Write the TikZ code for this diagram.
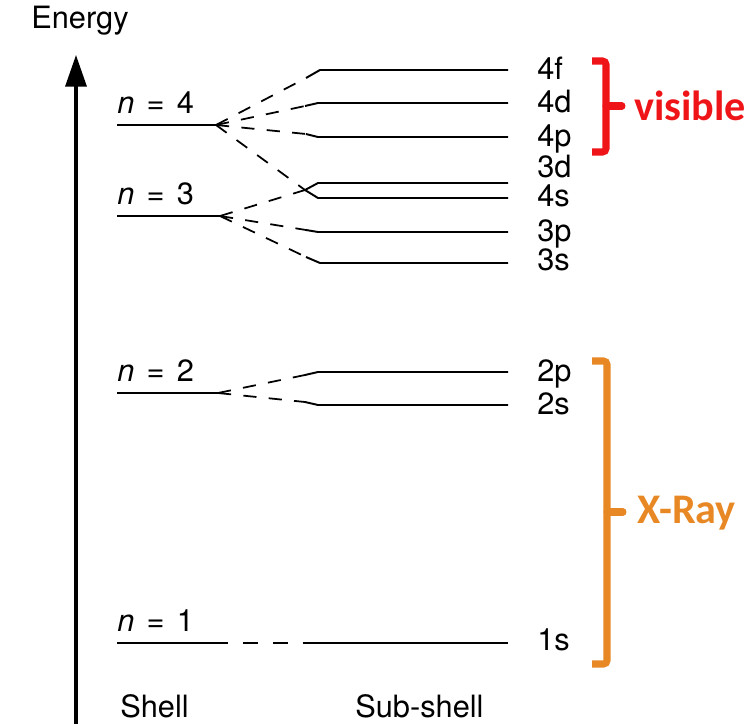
\documentclass[tikz,border=0pt]{standalone}
\usepackage{fontspec}
\setmainfont{TeX Gyre Heros}
\newfontfamily\bandfont{Carlito}
\usetikzlibrary{arrows.meta}
\definecolor{visred}{RGB}{238,20,24}
\definecolor{xorange}{RGB}{232,136,36}

\begin{document}
\begin{tikzpicture}[
    x=0.02cm, y=-0.02cm,
    level/.style={line width=1.1pt},
    split/.style={line width=1pt, dash pattern=on 7.5pt off 7pt},
    txt/.style={inner sep=0pt, anchor=base west, font=\fontsize{17.5}{20}\selectfont},
    brak/.style={line width=4pt, rounded corners=2pt},
    band/.style={anchor=west, inner sep=0pt,
        font=\bandfont\bfseries\fontsize{24}{28}\selectfont}
]
    \useasboundingbox (0,0) rectangle (751,724);

    % energy axis
    \node[txt] (energy) at (31,28) {Energy};
    \coordinate (axbot) at (76,724);
    \coordinate (axtop) at (76,55);
    \draw[line width=1.8pt, -{Triangle[length=18pt,width=12pt]}] (axbot) -- (axtop);

    % shells
    \foreach \n/\y/\xe in {4/125/216, 3/216/220, 2/393/218, 1/643/228} {
        \coordinate (s\n l) at (117,\y);
        \coordinate (s\n) at (\xe,\y);
        \draw[level] (s\n l) -- (s\n);
        \node[txt] (n\n) at (117,\y-12) {\textit{n}\hspace{0.4em}=\hspace{0.4em}\n};
    }

    % sub-shells
    \coordinate (j34) at (305,190);
    \foreach \o/\xs/\ys/\xb/\yb in {4f/306/78/320/70, 4d/305/106/318/103,
            4p/306/134/318/137, 3p/306/230/318/232, 3s/306/257/320/263,
            2p/305/375/318/372, 2s/305/402/318/405} {
        \coordinate (o\o) at (\xs,\ys);
        \draw[level] (o\o) -- (\xb,\yb) -- (508,\yb);
    }
    \draw[level] (j34) -- (318,183) -- (508,183);
    \draw[level] (j34) -- (318,198) -- (508,198);
    \coordinate (o1s) at (305,643);
    \draw[level] (o1s) -- (508,643);

    \foreach \o/\y in {4f/70, 4d/103, 4p/137, 3d/168, 4s/197, 3p/232, 3s/261,
            2p/372, 2s/405, 1s/641}
        \node[txt] (l\o) at (537,\y+9) {\o};

    % splitting
    \foreach \t in {o4f, o4d, o4p, j34} \draw[split] (s4) -- (\t);
    \foreach \t in {j34, o3p, o3s} \draw[split] (s3) -- (\t);
    \foreach \t in {o2p, o2s} \draw[split] (s2) -- (\t);
    \draw[level, dash pattern=on 8.5pt off 8.5pt, dash phase=8.5pt] (s1) -- (o1s);

    \node[txt] (shell) at (120,717) {Shell};
    \node[txt] (sub) at (355,717) {Sub-shell};

    % ranges
    \draw[brak, visred] (592,61) -| (606,152) -- (592,152);
    \draw[brak, visred, line cap=round] (606,106) -- (622,106);
    \node[band, text=visred] (vis) at (634,106) {visible};

    \draw[brak, xorange] (592,361) -| (607,664) -- (592,664);
    \draw[brak, xorange, line cap=round] (607,512) -- (623,512);
    \node[band, text=xorange] (xray) at (637,513) {X-Ray};
\end{tikzpicture}
\end{document}
